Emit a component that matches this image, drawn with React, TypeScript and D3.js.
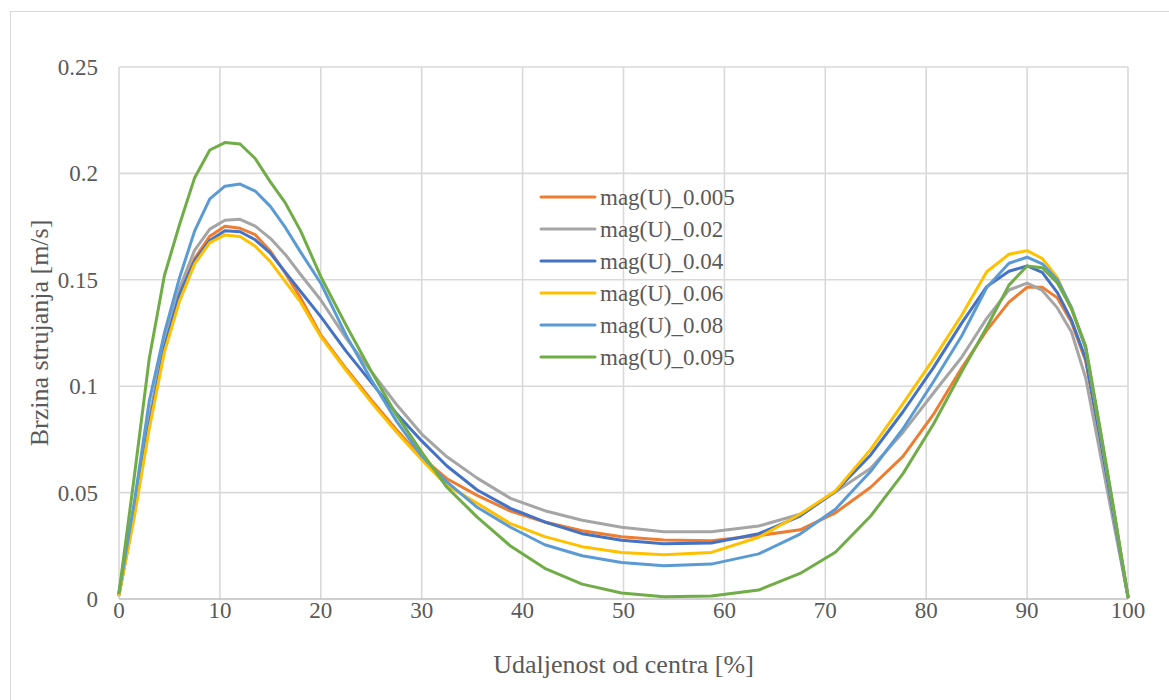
import React from "react";
import * as d3 from "d3";

const xPos = [0, 1.5, 3, 4.5, 6, 7.5, 9, 10.5, 12, 13.5, 15, 16.5, 18, 20, 22.5, 25, 27.5, 30, 32.5, 35.5, 38.8, 42.2, 45.9, 49.8, 54, 58.7, 63.4, 67.5, 71, 74.5, 77.7, 80.7, 83.5, 86, 88.2, 90, 91.5, 93, 94.4, 95.8, 97.2, 98.6, 100];

const mag005 = [0.002, 0.04, 0.083, 0.119, 0.144, 0.16, 0.1705, 0.1752, 0.1742, 0.1712, 0.1635, 0.153, 0.1415, 0.1241, 0.1083, 0.0935, 0.0795, 0.0665, 0.0565, 0.0487, 0.0413, 0.0362, 0.0321, 0.0293, 0.0277, 0.0274, 0.0298, 0.0325, 0.0405, 0.0525, 0.067, 0.0866, 0.1084, 0.1262, 0.1395, 0.1465, 0.1465, 0.1415, 0.13, 0.112, 0.076, 0.038, 0.001];
const mag02 = [0.003, 0.041, 0.085, 0.121, 0.146, 0.164, 0.1738, 0.178, 0.1784, 0.1752, 0.1695, 0.1618, 0.1525, 0.1405, 0.1226, 0.107, 0.0914, 0.0775, 0.0668, 0.0568, 0.0473, 0.0415, 0.037, 0.0337, 0.0316, 0.0316, 0.0343, 0.0398, 0.0503, 0.0614, 0.0783, 0.0967, 0.1135, 0.1319, 0.1452, 0.1484, 0.145, 0.1368, 0.1255, 0.104, 0.0695, 0.035, 0.001];
const mag04 = [0.002, 0.04, 0.082, 0.118, 0.143, 0.159, 0.1685, 0.173, 0.1726, 0.1688, 0.1625, 0.1535, 0.1445, 0.1327, 0.1165, 0.1018, 0.0872, 0.0743, 0.0625, 0.0512, 0.0426, 0.0362, 0.0307, 0.0276, 0.026, 0.0263, 0.0307, 0.039, 0.0505, 0.0677, 0.088, 0.1086, 0.1295, 0.1468, 0.154, 0.1565, 0.1535, 0.144, 0.131, 0.113, 0.077, 0.039, 0.001];
const mag06 = [0.002, 0.038, 0.08, 0.116, 0.14, 0.1575, 0.1675, 0.1711, 0.1703, 0.1658, 0.1585, 0.149, 0.1395, 0.1233, 0.1075, 0.0925, 0.0785, 0.0655, 0.0534, 0.045, 0.0354, 0.0293, 0.0246, 0.0219, 0.0208, 0.0219, 0.029, 0.0398, 0.0508, 0.0703, 0.0918, 0.1126, 0.1332, 0.1538, 0.162, 0.1637, 0.16, 0.151, 0.136, 0.118, 0.08, 0.041, 0.001];
const mag08 = [0.003, 0.045, 0.093, 0.125, 0.151, 0.173, 0.188, 0.194, 0.195, 0.1917, 0.1845, 0.1745, 0.163, 0.1484, 0.124, 0.103, 0.0836, 0.0672, 0.055, 0.0431, 0.0337, 0.0255, 0.0203, 0.0172, 0.0156, 0.0164, 0.0212, 0.0305, 0.0422, 0.06, 0.08, 0.102, 0.1235, 0.1464, 0.1578, 0.1606, 0.1575, 0.15, 0.137, 0.118, 0.08, 0.041, 0.001];
const mag095 = [0.003, 0.057, 0.113, 0.152, 0.176, 0.198, 0.211, 0.2145, 0.2138, 0.207, 0.196, 0.186, 0.173, 0.1515, 0.1287, 0.107, 0.0865, 0.069, 0.0525, 0.0385, 0.0249, 0.0144, 0.007, 0.0028, 0.0011, 0.0014, 0.0042, 0.012, 0.022, 0.039, 0.0589, 0.082, 0.1066, 0.1277, 0.1475, 0.1565, 0.1557, 0.1485, 0.1365, 0.119, 0.081, 0.042, 0.001];

const seriesNames = ["mag(U)_0.005", "mag(U)_0.02", "mag(U)_0.04", "mag(U)_0.06", "mag(U)_0.08", "mag(U)_0.095"];
const seriesValues = [mag005, mag02, mag04, mag06, mag08, mag095];
const seriesColors = ["#ED7D31", "#A5A5A5", "#4472C4", "#FFC000", "#5B9BD5", "#70AD47"];

const xTicks = [0, 10, 20, 30, 40, 50, 60, 70, 80, 90, 100];
const yTicks = [0, 0.05, 0.1, 0.15, 0.2, 0.25];

const xTitle = "Udaljenost od centra [%]";
const yTitle = "Brzina strujanja [m/s]";

export default function App() {
  const W = 1169;
  const H = 700;
  const left = 119;
  const right = 1128;
  const top = 67;
  const bottom = 599;
  const x = d3.scaleLinear().domain([0, 100]).range([left, right]);
  const y = d3.scaleLinear().domain([0, 0.25]).range([bottom, top]);
  const font = "Liberation Serif, Times New Roman, Times, serif";
  const textColor = "#595959";
  const tStyle = { fontFamily: font };

  const line = d3
    .line<number>()
    .x((_, i) => x(xPos[i]))
    .y((d) => y(d));

  const fmtY = (v: number) => (v === 0 ? "0" : String(+v.toFixed(2)));

  const legendX = 541;
  const legendY0 = 197;
  const legendStep = 32;

  return (
    <svg
      width={W}
      height={H}
      style={{ position: "absolute", left: 0, top: 0, background: "#fff" }}
    >
      <rect x={10.5} y={11.5} width={1200} height={720} fill="#fff" stroke="#D9D9D9" strokeWidth={1} />
      {xTicks.map((t) => (
        <line key={"gx" + t} x1={x(t)} x2={x(t)} y1={top} y2={bottom} stroke="#D9D9D9" strokeWidth={1.6} />
      ))}
      {yTicks.map((t) => (
        <line key={"gy" + t} x1={left} x2={right} y1={y(t)} y2={y(t)} stroke={t === 0 ? "#BFBFBF" : "#D9D9D9"} strokeWidth={1.6} />
      ))}
      {yTicks.map((t) => (
        <text key={"ty" + t} x={98} y={y(t)} dy="0.35em" textAnchor="end" style={tStyle} fontSize={23} fill={textColor}>
          {fmtY(t)}
        </text>
      ))}
      {xTicks.map((t) => (
        <text key={"tx" + t} x={x(t)} y={618} textAnchor="middle" style={tStyle} fontSize={23} fill={textColor}>
          {t}
        </text>
      ))}
      <text x={(left + right) / 2} y={673} textAnchor="middle" style={tStyle} fontSize={26} fill={textColor}>
        {xTitle}
      </text>
      <text
        transform={`translate(48, ${(top + bottom) / 2}) rotate(-90)`}
        textAnchor="middle"
        style={tStyle}
        fontSize={26}
        fill={textColor}
      >
        {yTitle}
      </text>
      {seriesValues.map((vals, i) => (
        <path
          key={"s" + i}
          d={line(vals) || ""}
          fill="none"
          stroke={seriesColors[i]}
          strokeWidth={3}
          strokeLinejoin="round"
          strokeLinecap="round"
        />
      ))}
      {seriesNames.map((name, i) => (
        <g key={"l" + i}>
          <line
            x1={legendX}
            x2={legendX + 54}
            y1={legendY0 + i * legendStep}
            y2={legendY0 + i * legendStep}
            stroke={seriesColors[i]}
            strokeWidth={3}
            strokeLinecap="round"
          />
          <text
            x={legendX + 59}
            y={legendY0 + i * legendStep}
            dy="0.35em"
            style={tStyle}
            fontSize={23}
            fill={textColor}
          >
            {name}
          </text>
        </g>
      ))}
    </svg>
  );
}
